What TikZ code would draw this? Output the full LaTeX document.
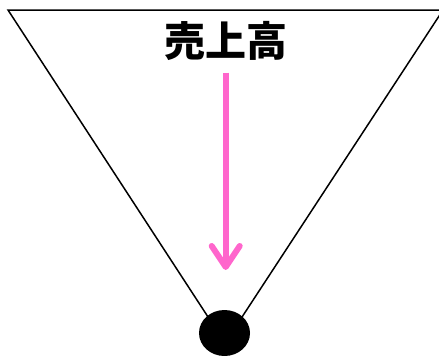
\documentclass[tikz,border=0pt]{standalone}
\usepackage{fontspec}
\newfontfamily\cjk{Noto Sans CJK JP}
\usetikzlibrary{arrows.meta,shapes.geometric}
\definecolor{pinkarrow}{HTML}{FF66CC}
\begin{document}
\begin{tikzpicture}[x=1pt,y=-1pt,
  edge/.style={draw=black,line width=1.5pt,line join=miter},
  title/.style={font=\cjk\bfseries\fontsize{41}{41}\selectfont,inner sep=0pt,anchor=center},
  dot/.style={ellipse,fill=black,minimum width=51pt,minimum height=46pt,inner sep=0pt},
  flow/.style={draw=pinkarrow,line width=6pt,line cap=butt,-{Straight Barb[length=21pt,width=28pt,line cap=round,line join=round]}}
]
\useasboundingbox (0,0) rectangle (439,356);
\coordinate (tl) at (8,10);
\coordinate (tr) at (443,10);
\coordinate (apex) at (225,343);
\draw[edge] (tl) -- (tr) -- (apex) -- cycle;
\node[dot] (d) at (224.5,333) {};
\node[title] (t) at (225.5,41) {売上高};
\coordinate (as) at (225.7,72.7);
\coordinate (ae) at (225.7,270);
\draw[flow] (as) -- (ae);
\end{tikzpicture}
\end{document}
